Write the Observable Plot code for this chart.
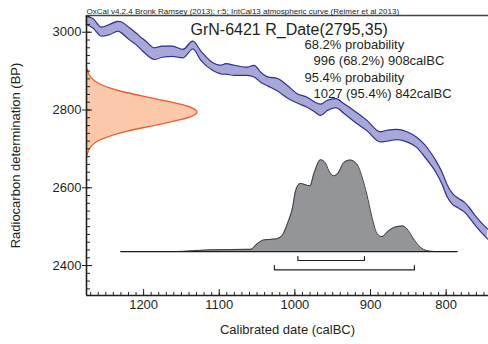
<!DOCTYPE html>
<html><head><meta charset="utf-8">
<script src="https://cdn.jsdelivr.net/npm/d3@7"></script>
<script src="https://cdn.jsdelivr.net/npm/@observablehq/plot@0.6"></script>
<style>
html,body{margin:0;padding:0;background:#fff;}
</style></head><body><div id="chart"></div>
<script>
// ---- IntCal13 calibration band (calBC, upper BP, lower BP) ----
const curveCal = [1276,1267,1256,1245,1234,1230,1219,1210,1201,1197,1186,1175,1162,1148,1135,1124,1109,1098,1091,1080,1063,1054,1045,1036,1023,1010,997,984,975,966,957,946,935,922,905,887,878,865,852,839,829,821,813,805,799,792,784,776,769,761,753,745];
const curveHi  = [3041,3035,3013,3020,3028,3027,3012,2998,2983,2977,2960,2964,2964,2956,2977,2951,2922,2915,2919,2915,2910,2915,2897,2885,2881,2863,2842,2833,2822,2815,2825,2829,2816,2799,2774,2744,2748,2750,2744,2730,2712,2692,2668,2638,2609,2586,2573,2563,2548,2527,2509,2494];
const curveLo  = [3020,3011,2990,2994,3003,2999,2981,2968,2951,2944,2930,2936,2938,2934,2957,2927,2902,2893,2892,2889,2889,2885,2871,2862,2849,2831,2818,2807,2797,2786,2799,2806,2791,2771,2747,2718,2720,2724,2718,2704,2681,2661,2638,2607,2578,2558,2548,2538,2522,2502,2484,2468];

// ---- R_Date(2795,35): BP and relative probability ----
const rBP   = [2685,2695,2705,2715,2725,2735,2745,2755,2765,2775,2785,2795,2805,2815,2825,2835,2845,2855,2865,2875,2885,2895,2905];
const rDens = [0.007,0.017,0.037,0.073,0.135,0.230,0.360,0.521,0.693,0.849,0.960,1.000,0.960,0.849,0.693,0.521,0.360,0.230,0.135,0.073,0.037,0.017,0.007];

// ---- calibrated posterior (calBC, relative probability) ----
const postCal  = [1230,1160,1115,1058,1050,1041,1025,1017,1010,1003,999,993,980,975,966,960,955,949,944,935,927,918,911,905,898,891,885,876,865,857,850,843,834,826,815,785];
const postProb = [0,0,0.018,0.025,0.084,0.127,0.138,0.174,0.301,0.482,0.663,0.742,0.717,0.845,1.0,0.971,0.880,0.826,0.845,0.971,0.997,0.953,0.808,0.627,0.373,0.192,0.163,0.228,0.272,0.279,0.228,0.138,0.047,0.011,0,0];

// ---- highest probability ranges ----
const range68 = [996, 908];
const range95 = [1027, 842];

// ---- ticks & texts ----
const xMajor = [1200, 1100, 1000, 900, 800];
const yMajor = [2400, 2600, 2800, 3000];
const headerText = "OxCal v4.2.4 Bronk Ramsey (2013); r:5; IntCal13 atmospheric curve (Reimer et al 2013)";
const titleText = "GrN-6421 R_Date(2795,35)";
const summaryLines = ["68.2% probability", "996 (68.2%) 908calBC", "95.4% probability", "1027 (95.4%) 842calBC"];
const xTitle = "Calibrated date (calBC)";
const yTitle = "Radiocarbon determination (BP)";

// ---- layout ----
const xDomain = [1275.5, 744];
const yDomain = [2323, 3043];
const rWidth = 146;      // horizontal extent of R_Date density (years)
const postBase = 2436;   // baseline of posterior (BP units)
const postHeight = 236;  // height of posterior peak (BP units)
const postSpan = [1230, 785];

const curve = curveCal.map((c, i) => ({cal: c, hi: curveHi[i], lo: curveLo[i]}));
const rdate = rBP.map((b, i) => ({bp: b, d: rDens[i]}));
const post = postCal.map((c, i) => ({cal: c, p: postProb[i]}));
const brackets = [
  {r: range68, bar: 2413, tip: 2423},
  {r: range95, bar: 2389, tip: 2400}
];
const bracketPts = brackets.flatMap((b, k) => [
  {k, x: b.r[0], y: b.tip}, {k, x: b.r[0], y: b.bar}, {k, x: b.r[1], y: b.bar}, {k, x: b.r[1], y: b.tip}
]);

const ink = "#231f20";
const font = "'Liberation Sans', Arial, sans-serif";
const lineY = [48, 64.5, 81, 97.5];

const chart = Plot.plot({
  width: 488, height: 344,
  marginLeft: 86, marginRight: 0, marginTop: 15, marginBottom: 49,
  style: {fontFamily: font, fontSize: "13px", color: ink, background: "#fff"},
  x: {domain: xDomain},
  y: {domain: yDomain},
  marks: [
    // calibration band
    Plot.areaY(curve, {x: "cal", y1: "lo", y2: "hi", fill: "#a7a8d7", curve: "monotone-x"}),
    Plot.line(curve, {x: "cal", y: "hi", stroke: "#2e3192", strokeWidth: 1.2, curve: "monotone-x"}),
    Plot.line(curve, {x: "cal", y: "lo", stroke: "#2e3192", strokeWidth: 1.2, curve: "monotone-x"}),
    // R_Date density
    Plot.areaX(rdate, {y: "bp", x1: () => xDomain[0], x2: d => xDomain[0] - d.d * rWidth, fill: "#fbc8aa", curve: "natural"}),
    Plot.lineX(rdate, {y: "bp", x: d => xDomain[0] - d.d * rWidth, stroke: "#f15a29", strokeWidth: 1.3, curve: "natural"}),
    // posterior
    Plot.areaY(post, {x: "cal", y1: () => postBase, y2: d => postBase + d.p * postHeight, fill: "#939598", curve: "monotone-x"}),
    Plot.line(post, {x: "cal", y: d => postBase + d.p * postHeight, stroke: "#3a3a3a", strokeWidth: 1, curve: "monotone-x"}),
    Plot.ruleY([postBase], {x1: postSpan[0], x2: postSpan[1], stroke: ink, strokeWidth: 1.2}),
    // ranges
    Plot.line(bracketPts, {x: "x", y: "y", z: "k", stroke: ink, strokeWidth: 1.2}),
    // frame
    Plot.ruleX([xDomain[0]], {stroke: ink, strokeWidth: 1.6}),
    Plot.ruleY([yDomain[0]], {stroke: ink, strokeWidth: 1.6}),
    Plot.ruleY([yDomain[1]], {stroke: "#444", strokeWidth: 1.4}),
    // axes
    Plot.axisY({ticks: d3.range(2340, 3041, 20), tickSize: -4, tickFormat: () => "", label: null, stroke: ink}),
    Plot.axisY({ticks: yMajor, tickSize: -6, tickFormat: () => "", label: null, stroke: ink}),
    Plot.axisY({ticks: yMajor, tickSize: 4, tickPadding: 1, tickFormat: d => String(d), label: null, stroke: ink, fontSize: 13}),
    Plot.axisX({ticks: d3.range(750, 1276, 10), tickSize: -3, tickFormat: () => "", label: null, stroke: ink}),
    Plot.axisX({ticks: xMajor, tickSize: -6, tickFormat: () => "", label: null, stroke: ink}),
    Plot.axisX({ticks: xMajor, tickSize: 0, tickPadding: 4, tickFormat: d => String(d), label: null, fontSize: 13}),
    // texts
    Plot.text([headerText], {frameAnchor: "top-left", textAnchor: "start", lineAnchor: "middle", dx: 0, dy: -4.1, fontSize: 8, fill: ink}),
    Plot.text([titleText], {frameAnchor: "top-left", textAnchor: "start", lineAnchor: "middle", dx: 104, dy: 13.9, fontSize: 16, fill: ink}),
    Plot.text(summaryLines, {frameAnchor: "top-left", textAnchor: "start", lineAnchor: "middle",
      fontSize: 13, fill: ink, text: d => d}),
    Plot.text([xTitle], {frameAnchor: "bottom", textAnchor: "middle", lineAnchor: "middle", dy: 34.8, fontSize: 13, fill: ink}),
    Plot.text([yTitle], {frameAnchor: "left", textAnchor: "middle", lineAnchor: "middle", rotate: -90, dx: -71, fontSize: 13, fill: ink})
  ]
});
document.getElementById("chart").appendChild(chart);

// position summary lines individually (one mark, one offset per line)
const summaryGroup = chart.querySelectorAll("g[aria-label='text']")[2];
if (summaryGroup) {
  summaryGroup.querySelectorAll("text").forEach((t, i) => {
    const dx = (i % 2 === 0) ? 218 : 227;
    const dy = lineY[i] - 0.32 * 13 - 15;
    t.setAttribute("transform", `translate(${86 + dx},${15 + dy})`);
  });
}
</script></body></html>
